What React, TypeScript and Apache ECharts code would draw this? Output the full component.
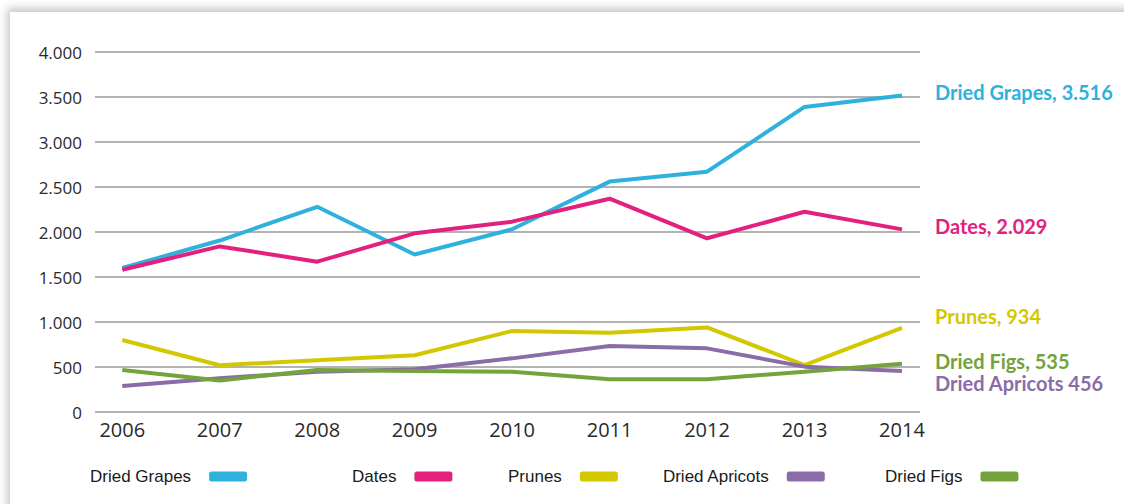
import React, { useEffect, useRef } from "react";
import * as echarts from "echarts";

const years = [2006, 2007, 2008, 2009, 2010, 2011, 2012, 2013, 2014];
const driedGrapes = [1600, 1905, 2280, 1750, 2030, 2560, 2670, 3390, 3516];
const dates = [1580, 1840, 1670, 1985, 2115, 2370, 1930, 2225, 2029];
const prunes = [800, 520, 575, 630, 900, 880, 940, 520, 934];
const driedApricots = [290, 375, 448, 474, 596, 733, 707, 504, 456];
const driedFigs = [467, 350, 467, 456, 448, 363, 363, 448, 535];
const yTicks = [0, 500, 1000, 1500, 2000, 2500, 3000, 3500, 4000];

const seriesNames = ["Dried Grapes", "Dates", "Prunes", "Dried Apricots", "Dried Figs"];
const seriesValues = [driedGrapes, dates, prunes, driedApricots, driedFigs];
const colors = ["#2EB1DD", "#E3207E", "#D3C800", "#8A6CA8", "#74A33C"];
const endLabelTexts = [
  "Dried Grapes, 3.516",
  "Dates, 2.029",
  "Prunes, 934",
  "Dried Apricots 456",
  "Dried Figs, 535",
];
const endOffsets = [
  [25, -4],
  [25, -3],
  [25, -12],
  [25, 12],
  [25, -3],
];
const legendLefts = [80, 342, 498, 652, 875];

const fmtThousands = (v: number) => {
  const s = String(Math.round(v));
  return s.replace(/\B(?=(\d{3})+(?!\d))/g, ".");
};

export default function App() {
  const ref = useRef<HTMLDivElement>(null);
  useEffect(() => {
    if (!ref.current) return;
    const chart = echarts.init(ref.current, null, { renderer: "svg" });
    const axisFont = "'Open Sans', 'Liberation Sans', sans-serif";
    chart.setOption({
      animation: false,
      backgroundColor: "transparent",
      grid: { left: 85, right: 204, top: 40, bottom: 92 },
      xAxis: {
        type: "value",
        min: 2005.72,
        max: 2014.185,
        axisLine: { show: false },
        axisTick: { show: false },
        splitLine: { show: false },
        axisLabel: {
          customValues: years,
          formatter: (v: number) => String(v),
          color: "#2a2a2a",
          fontFamily: axisFont,
          fontSize: 20,
          margin: 7,
        },
      },
      yAxis: {
        type: "value",
        min: 0,
        max: 4000,
        interval: 500,
        axisLine: { show: false },
        axisTick: { show: false },
        splitLine: { show: true, lineStyle: { color: "#b3b3b3", width: 2 } },
        axisLabel: {
          customValues: yTicks,
          formatter: (v: number) => fmtThousands(v),
          color: "#2a2a2a",
          fontFamily: axisFont,
          fontSize: 17,
          margin: 13,
        },
      },
      legend: seriesNames.map((n, i) => ({
        data: [n],
        left: legendLefts[i],
        top: 456,
        padding: 0,
        align: "right",
        icon: "roundRect",
        itemWidth: 38,
        itemHeight: 10,
        textStyle: {
          fontFamily: "'Liberation Sans', Arial, sans-serif",
          fontSize: 17,
          color: "#1a1a1a",
          padding: [0, 13, 0, 0],
        },
        selectedMode: false,
      })),
      series: seriesNames.map((n, i) => ({
        name: n,
        type: "line",
        data: years.map((y, j) => [y, seriesValues[i][j]]),
        color: colors[i],
        symbol: "none",
        lineStyle: { width: 4, color: colors[i] },
        itemStyle: { color: colors[i] },
        endLabel: {
          show: true,
          formatter: endLabelTexts[i],
          color: colors[i],
          fontFamily: "Lato, 'Open Sans', sans-serif",
          fontWeight: "bold",
          fontSize: 20,
          lineHeight: 18,
          offset: endOffsets[i],
        },
      })),
    });
    return () => chart.dispose();
  }, []);
  return (
    <div
      style={{
        position: "fixed",
        left: 0,
        top: 0,
        width: 1124,
        height: 504,
        background: "#ffffff",
        overflow: "hidden",
      }}
    >
      <div
        style={{
          position: "absolute",
          left: 10,
          top: 12,
          width: 1140,
          height: 520,
          background: "#ffffff",
          boxShadow: "-3px -4px 8px rgba(0,0,0,0.22)",
        }}
      >
        <div ref={ref} style={{ width: 1114, height: 492 }} />
      </div>
    </div>
  );
}
